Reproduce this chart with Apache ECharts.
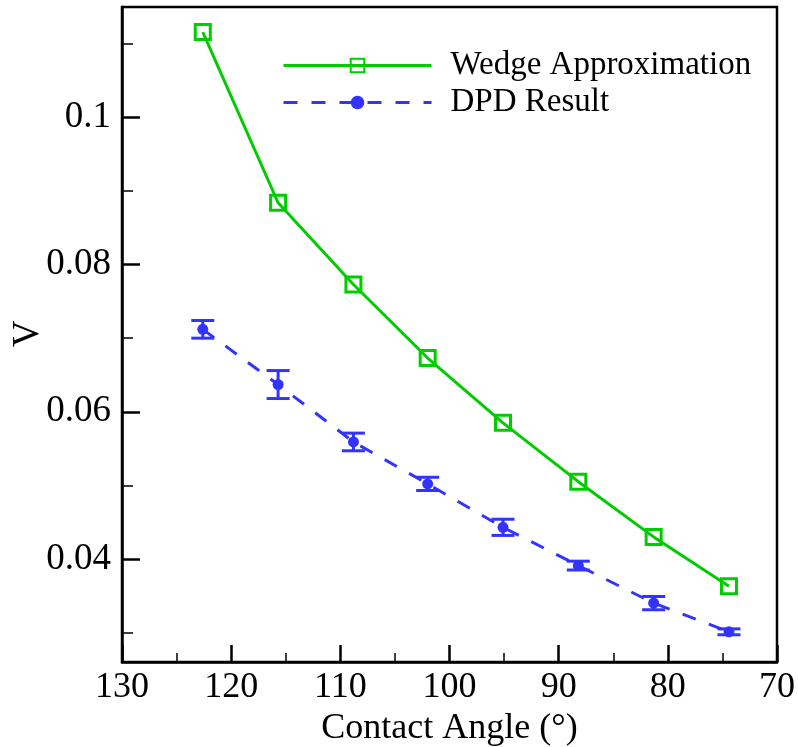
<!DOCTYPE html>
<html>
<head>
<meta charset="utf-8">
<script src="https://cdn.jsdelivr.net/npm/echarts@6/dist/echarts.min.js"></script>
<style>
  html, body { margin: 0; padding: 0; background: #fff; }
  #chart { width: 798px; height: 747px; }
</style>
</head>
<body>
<div id="chart"></div>
<script>
// contact angle (deg)
const angles = [122.6, 115.7, 108.8, 102.0, 95.1, 88.2, 81.3, 74.4];
// wedge approximation
const wedge = [0.1116, 0.0884, 0.0773, 0.0673, 0.0585, 0.0505, 0.0430, 0.0363];
// DPD result and its error
const dpd = [0.0712, 0.0637, 0.0559, 0.0502, 0.0443, 0.0391, 0.0340, 0.0301];
const dpdErr = [0.0012, 0.0019, 0.0012, 0.0009, 0.0011, 0.0006, 0.0009, 0.0004];
// y ticks
const yMajor = [0.04, 0.06, 0.08, 0.1];
const yMinor = [0.03, 0.05, 0.07, 0.09, 0.11];

const green = '#00cc00';
const blue = '#3333ff';
const font = "'Liberation Serif', 'Times New Roman', serif";

const wedgeData = angles.map((a, i) => [a, wedge[i]]);
const dpdData = angles.map((a, i) => [a, dpd[i]]);
const errData = angles.map((a, i) => [a, dpd[i] - dpdErr[i], dpd[i] + dpdErr[i]]);

const chart = echarts.init(document.getElementById('chart'));

const option = {
  animation: false,
  grid: {
    left: 122, right: 21, top: 7, bottom: 85,
    outerBoundsMode: 'none',
    containLabel: false,
    show: true, borderColor: '#000', borderWidth: 2.5
  },
  // y axis title, placed by hand
  graphic: [{
    type: 'text',
    x: 28,
    y: 334,
    rotation: Math.PI / 2,
    style: {
      text: 'V',
      font: "37px 'Liberation Serif', 'Times New Roman', serif",
      fill: '#000',
      align: 'center',
      verticalAlign: 'middle'
    }
  }],
  legend: {
    orient: 'vertical',
    left: 277,
    top: 44,
    itemWidth: 148,
    itemHeight: 17,
    itemGap: 4,
    data: ['Wedge Approximation', 'DPD Result'],
    lineStyle: { width: 3 },
    textStyle: { fontFamily: font, fontSize: 33, color: '#000', padding: [0, 0, 0, 14] }
  },
  xAxis: {
    type: 'value',
    inverse: true,
    min: 70, max: 130, interval: 10,
    name: 'Contact Angle (°)',
    nameLocation: 'middle',
    nameGap: 46,
    nameTextStyle: { fontFamily: font, fontSize: 36, color: '#000' },
    axisLine: { lineStyle: { color: '#000', width: 2.5 } },
    axisTick: { inside: true, length: 17, lineStyle: { color: '#000', width: 2.5 } },
    minorTick: { show: true, splitNumber: 2, length: 9, lineStyle: { color: '#000', width: 1.5 } },
    splitLine: { show: false },
    axisLabel: { fontFamily: font, fontSize: 36, color: '#000', margin: 8 }
  },
  yAxis: [{
    type: 'value',
    min: 0.026, max: 0.115,
    axisLine: { show: true, lineStyle: { color: '#000', width: 2.5 } },
    axisTick: { inside: true, length: 18, customValues: yMajor, lineStyle: { color: '#000', width: 2.5 } },
    splitLine: { show: false },
    axisLabel: { fontFamily: font, fontSize: 37, color: '#000', margin: 11, customValues: yMajor }
  }, {
    type: 'value',
    position: 'left',
    min: 0.026, max: 0.115,
    axisLine: { show: false },
    axisTick: { show: true, inside: true, length: 11, customValues: yMinor, lineStyle: { color: '#000', width: 1.5 } },
    axisLabel: { show: false },
    splitLine: { show: false }
  }],
  series: [
    {
      name: 'DPD Result',
      type: 'line',
      data: dpdData,
      symbol: 'circle',
      symbolSize: 11,
      itemStyle: { color: blue },
      lineStyle: { color: blue, width: 3, type: [14, 14] },
      z: 3
    },
    {
      type: 'custom',
      data: errData,
      encode: { x: 0, y: [1, 2] },
      renderItem: function (params, api) {
        const x = api.value(0);
        const top = api.coord([x, api.value(2)]);
        const bot = api.coord([x, api.value(1)]);
        const w = 11.5;
        const style = { stroke: blue, lineWidth: 3, fill: null };
        return {
          type: 'group',
          children: [
            { type: 'line', shape: { x1: top[0], y1: top[1], x2: bot[0], y2: bot[1] }, style: style },
            { type: 'line', shape: { x1: top[0] - w, y1: top[1], x2: top[0] + w, y2: top[1] }, style: style },
            { type: 'line', shape: { x1: bot[0] - w, y1: bot[1], x2: bot[0] + w, y2: bot[1] }, style: style }
          ]
        };
      },
      z: 4
    },
    {
      name: 'Wedge Approximation',
      type: 'line',
      data: wedgeData,
      symbol: 'rect',
      symbolSize: 15,
      itemStyle: { color: 'rgba(0,0,0,0)', borderColor: green, borderWidth: 3 },
      lineStyle: { color: green, width: 3 },
      z: 5
    }
  ]
};

chart.setOption(option);
</script>
</body>
</html>
